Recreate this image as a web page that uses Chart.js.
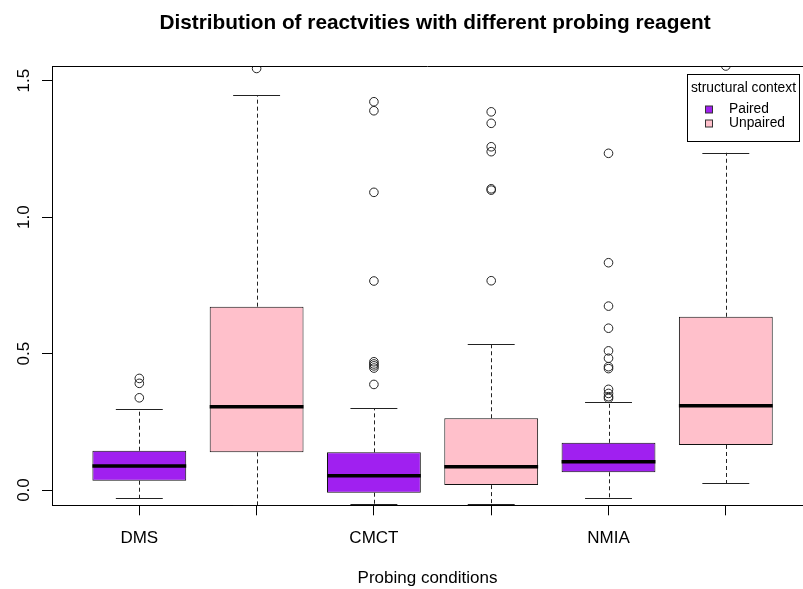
<!DOCTYPE html>
<html>
<head>
<meta charset="utf-8">
<script src="https://cdn.jsdelivr.net/npm/chart.js@4/dist/chart.umd.min.js"></script>
<style>
  html, body { margin: 0; padding: 0; background: #fff; overflow: hidden; }
  canvas { display: block; }
</style>
</head>
<body>
<canvas id="c" width="803" height="589"></canvas>
<script>
// ---- text ----
const TITLE = 'Distribution of reactvities with different probing reagent';
const X_TITLE = 'Probing conditions';
const LEGEND_TITLE = 'structural context';

// ---- categories / groups ----
const CATEGORIES = ['DMS', 'CMCT', 'NMIA'];
const GROUPS = ['Paired', 'Unpaired'];

// ---- y axis ticks ----
const Y_TICKS = [0, 0.5, 1.0, 1.5];
const Y_TICK_LABELS = ['0.0', '0.5', '1.0', '1.5'];

// ---- box statistics, one value per category (DMS, CMCT, NMIA) ----
const PAIRED_LOW  = [-0.030, -0.053, -0.030];
const PAIRED_Q1   = [ 0.034, -0.010,  0.065];
const PAIRED_MED  = [ 0.088,  0.052,  0.104];
const PAIRED_Q3   = [ 0.144,  0.138,  0.173];
const PAIRED_HIGH = [ 0.298,  0.299,  0.324];
const PAIRED_OUT  = [
  [0.338, 0.391, 0.409],
  [0.387, 0.447, 0.455, 0.462, 0.470, 0.766, 1.091, 1.390, 1.423],
  [0.336, 0.342, 0.354, 0.369, 0.445, 0.452, 0.483, 0.510, 0.593, 0.674, 0.833, 1.234]
];

const UNPAIRED_LOW  = [-0.055, -0.053,  0.025];
const UNPAIRED_Q1   = [ 0.138,  0.018,  0.165];
const UNPAIRED_MED  = [ 0.305,  0.085,  0.309];
const UNPAIRED_Q3   = [ 0.672,  0.263,  0.635];
const UNPAIRED_HIGH = [ 1.446,  0.535,  1.236];
const UNPAIRED_OUT  = [
  [1.545],
  [0.767, 1.099, 1.104, 1.240, 1.258, 1.344, 1.386],
  [1.554]
];

// ---- styling ----
const FONT = '"Liberation Sans", Arial, Helvetica, sans-serif';
const FILLS = ['#A020F0', '#FFC0CB'];
const STATS = [
  { low: PAIRED_LOW, q1: PAIRED_Q1, med: PAIRED_MED, q3: PAIRED_Q3, high: PAIRED_HIGH, out: PAIRED_OUT },
  { low: UNPAIRED_LOW, q1: UNPAIRED_Q1, med: UNPAIRED_MED, q3: UNPAIRED_Q3, high: UNPAIRED_HIGH, out: UNPAIRED_OUT }
];
const BOX_WIDTH = 0.8;   // in x units
const CAP_WIDTH = 0.4;

// boxes sit side by side: paired at odd positions, unpaired right after
const pos = (i, g) => 2 * i + 1 + g;
const TICK_POSITIONS = [];
CATEGORIES.forEach((c, i) => GROUPS.forEach((gName, g) => TICK_POSITIONS.push(pos(i, g))));

const datasets = [];
STATS.forEach((s, g) => {
  datasets.push({
    type: 'bar',
    label: GROUPS[g],
    data: CATEGORIES.map((c, i) => ({ x: pos(i, g), y: [s.q1[i], s.q3[i]] })),
    backgroundColor: FILLS[g],
    borderColor: '#111',
    borderWidth: 1,
    borderSkipped: false,
    grouped: false,
    barPercentage: 1,
    categoryPercentage: BOX_WIDTH
  });
});
STATS.forEach((s, g) => {
  const pts = [];
  CATEGORIES.forEach((c, i) => s.out[i].forEach(v => pts.push({ x: pos(i, g), y: v })));
  datasets.push({
    type: 'scatter',
    label: GROUPS[g] + ' outliers',
    data: pts,
    pointStyle: 'circle',
    pointRadius: 4.3,
    pointBorderWidth: 1,
    borderColor: '#222',
    backgroundColor: 'rgba(0,0,0,0)',
    clip: 0
  });
});

// whiskers, staples, medians, frame, rotated y labels, title and legend
const boxplotPlugin = {
  id: 'boxplotParts',
  beforeDatasetsDraw(chart) {
    const { ctx, chartArea } = chart;
    const xs = chart.scales.x, ys = chart.scales.y;
    ctx.save();
    ctx.beginPath();
    ctx.rect(chartArea.left, chartArea.top, chartArea.right - chartArea.left, chartArea.bottom - chartArea.top);
    ctx.clip();
    ctx.strokeStyle = '#222';
    ctx.lineWidth = 1;
    STATS.forEach((s, g) => {
      CATEGORIES.forEach((c, i) => {
        const p = pos(i, g);
        const x = Math.round(xs.getPixelForValue(p)) + 0.5;
        const xl = xs.getPixelForValue(p - CAP_WIDTH / 2);
        const xr = xs.getPixelForValue(p + CAP_WIDTH / 2);
        const yLow = ys.getPixelForValue(s.low[i]);
        const yQ1 = ys.getPixelForValue(s.q1[i]);
        const yQ3 = ys.getPixelForValue(s.q3[i]);
        const yHigh = ys.getPixelForValue(s.high[i]);
        ctx.setLineDash([4, 3]);
        ctx.beginPath();
        ctx.moveTo(x, yQ3); ctx.lineTo(x, yHigh);
        ctx.moveTo(x, yQ1); ctx.lineTo(x, yLow);
        ctx.stroke();
        ctx.setLineDash([]);
        ctx.beginPath();
        ctx.moveTo(xl, Math.round(yHigh) + 0.5); ctx.lineTo(xr, Math.round(yHigh) + 0.5);
        ctx.moveTo(xl, Math.round(yLow) + 0.5); ctx.lineTo(xr, Math.round(yLow) + 0.5);
        ctx.stroke();
      });
    });
    ctx.restore();
  },
  afterDatasetsDraw(chart) {
    const { ctx } = chart;
    const xs = chart.scales.x, ys = chart.scales.y;
    ctx.save();
    ctx.strokeStyle = '#000';
    ctx.lineWidth = 3.5;
    STATS.forEach((s, g) => {
      CATEGORIES.forEach((c, i) => {
        const p = pos(i, g);
        const y = ys.getPixelForValue(s.med[i]);
        ctx.beginPath();
        ctx.moveTo(xs.getPixelForValue(p - BOX_WIDTH / 2), y);
        ctx.lineTo(xs.getPixelForValue(p + BOX_WIDTH / 2), y);
        ctx.stroke();
      });
    });
    ctx.restore();
  },
  afterDraw(chart) {
    const { ctx, chartArea } = chart;
    const ys = chart.scales.y;
    ctx.save();
    // top edge of the plot frame
    ctx.strokeStyle = '#000';
    ctx.lineWidth = 1;
    ctx.beginPath();
    ctx.moveTo(chartArea.left, Math.round(chartArea.top) + 0.5);
    ctx.lineTo(chartArea.right, Math.round(chartArea.top) + 0.5);
    ctx.stroke();

    // y tick labels, written along the axis
    ctx.fillStyle = '#000';
    ctx.font = '17px ' + FONT;
    ctx.textAlign = 'center';
    ctx.textBaseline = 'alphabetic';
    Y_TICKS.forEach((v, k) => {
      ctx.save();
      ctx.translate(29, ys.getPixelForValue(v));
      ctx.rotate(-Math.PI / 2);
      ctx.fillText(Y_TICK_LABELS[k], 0, 0);
      ctx.restore();
    });

    // main title
    ctx.font = 'bold 20.8px ' + FONT;
    ctx.textAlign = 'center';
    ctx.fillText(TITLE, 435, 29);

    // legend
    const lx = 687.5, ly = 74.5, lw = 112, lh = 67;
    ctx.fillStyle = '#fff';
    ctx.fillRect(lx, ly, lw, lh);
    ctx.strokeStyle = '#000';
    ctx.strokeRect(lx, ly, lw, lh);
    ctx.fillStyle = '#000';
    ctx.font = '13.8px ' + FONT;
    ctx.textAlign = 'center';
    ctx.fillText(LEGEND_TITLE, lx + lw / 2, 92);
    ctx.textAlign = 'left';
    ctx.textBaseline = 'middle';
    GROUPS.forEach((name, g) => {
      const cy = 109.5 + g * 14;
      ctx.fillStyle = FILLS[g];
      ctx.fillRect(705.5, cy - 3.5, 7, 7);
      ctx.strokeStyle = '#333';
      ctx.strokeRect(705.5, cy - 3.5, 7, 7);
      ctx.fillStyle = '#000';
      ctx.fillText(name, 729, cy);
    });
    ctx.restore();
  }
};

const xLabelFor = (v) => {
  for (let i = 0; i < CATEGORIES.length; i++) if (v === pos(i, 0)) return CATEGORIES[i];
  return '';
};

new Chart(document.getElementById('c'), {
  type: 'bar',
  data: { datasets },
  options: {
    responsive: false,
    devicePixelRatio: 1,
    animation: false,
    layout: { autoPadding: false, padding: { top: 66, left: 0, right: 0, bottom: 0 } },
    plugins: {
      legend: { display: false },
      title: { display: false },
      tooltip: { enabled: false }
    },
    scales: {
      x: {
        type: 'linear',
        min: 0.2557,
        max: 6.658,
        offset: false,
        afterBuildTicks: (s) => { s.ticks = TICK_POSITIONS.map(v => ({ value: v })); },
        afterFit: (s) => { s.height = 83.7; s.paddingLeft = 0; s.paddingRight = 0; },
        ticks: {
          autoSkip: false, minRotation: 0, maxRotation: 0, padding: 13,
          color: '#000',
          font: { family: FONT, size: 17 },
          callback: (v) => xLabelFor(v)
        },
        grid: { display: true, drawOnChartArea: false, drawTicks: true, tickLength: 10, color: '#000', offset: false },
        border: { display: true, color: '#000', width: 1 },
        title: { display: true, text: X_TITLE, color: '#000', font: { family: FONT, size: 17 }, padding: { top: 0, bottom: 0 } }
      },
      y: {
        type: 'linear',
        min: -0.056,
        max: 1.554,
        afterBuildTicks: (s) => { s.ticks = Y_TICKS.map(v => ({ value: v })); },
        afterFit: (s) => { s.width = 52; s.paddingTop = 0; s.paddingBottom = 0; },
        ticks: { display: false },
        grid: { display: true, drawOnChartArea: false, drawTicks: true, tickLength: 10, color: '#000' },
        border: { display: true, color: '#000', width: 1 }
      }
    }
  },
  plugins: [boxplotPlugin]
});
</script>
</body>
</html>
